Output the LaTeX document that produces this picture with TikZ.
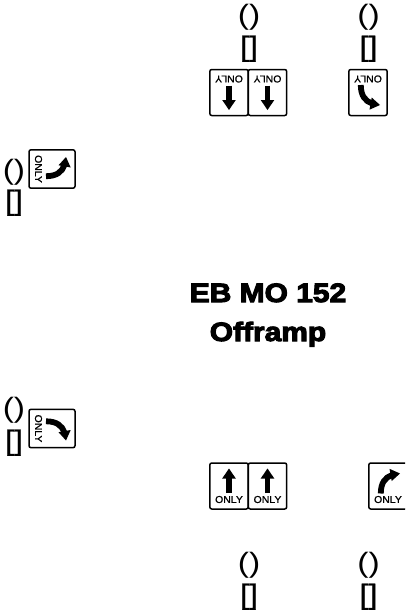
\documentclass[tikz,border=0pt]{standalone}
\usepackage{fontspec}
\setmainfont{Liberation Sans}
\newfontfamily\heavyfont[FakeBold=4,FakeStretch=1.13]{Liberation Sans Bold}
\newfontfamily\onlyfont[FakeBold=1,FakeStretch=1.05]{Liberation Sans}
\newfontfamily\bracketfont[FakeBold=0.8,FakeStretch=1.15]{Liberation Sans}
\newfontfamily\parenfont[FakeStretch=1.2]{Liberation Sans}
\tikzset{
  parens/.style={font=\parenfont\fontsize{28}{28}\selectfont, anchor=base, inner sep=0pt},
  brackets/.style={font=\bracketfont\fontsize{28}{28}\selectfont, anchor=base, inner sep=0pt},
  titletext/.style={font=\heavyfont\fontsize{26.5}{26.5}\selectfont, anchor=base, inner sep=0pt},
  panel/.style={draw=black, fill=white, line width=1.5pt, rounded corners=2pt},
  onlytext/.style={font=\onlyfont\fontsize{10}{10}\selectfont, inner sep=0pt, transform shape},
  arrowshaft/.style={draw=black, line width=5.8pt},
  arrowhead/.style={fill=black},
  turned/.style={transform shape},
  pics/signboard/.style={code={
    \draw[panel] (-19.2,-23) rectangle (19.2,23);
    \node[onlytext] (-only) at (0,13.5) {ONLY};
  }},
  pics/straightarrow/.style={code={
    \draw[arrowshaft] (0,7) -- (0,-8);
    \fill[arrowhead] (0,-17.5) -- (6.8,-7.5) -- (-6.8,-7.5) -- cycle;
  }},
  pics/leftturnarrow/.style={code={
    \draw[arrowshaft] (7.2,7.5) .. controls (7.2,-3) and (3,-8.5) .. (-4,-11);
    \fill[arrowhead] (-12,-12.5) -- (-3.7,-5) -- (-1.5,-17.2) -- cycle;
  }},
  pics/rightturnarrow/.style={code={
    \begin{scope}[xscale=-1]
    \draw[arrowshaft] (7.2,7.5) .. controls (7.2,-3) and (3,-8.5) .. (-4,-11);
    \fill[arrowhead] (-12,-12.5) -- (-3.7,-5) -- (-1.5,-17.2) -- cycle;
    \end{scope}
  }}
}
\begin{document}
\begin{tikzpicture}[x=1pt,y=-1pt]
\useasboundingbox (0,0) rectangle (405,613);
\clip (0,0) rectangle (405,613);
% top labels
\node[parens] (pt1) at (249,24) {()};
\node[brackets] (bt1) at (249,56) {[]};
\node[parens] (pt2) at (368.5,24) {()};
\node[brackets] (bt2) at (368.5,56) {[]};
% top signs
\begin{scope}[shift={(229,92.5)},rotate=180]
  \pic[turned] (s1) {signboard}; \pic[turned] (a1) {straightarrow};
\end{scope}
\begin{scope}[shift={(267.5,92.5)},rotate=180]
  \pic[turned] (s2) {signboard}; \pic[turned] (a2) {straightarrow};
\end{scope}
\begin{scope}[shift={(368,92.5)},rotate=180]
  \pic[turned] (s3) {signboard}; \pic[turned] (a3) {leftturnarrow};
\end{scope}
% left labels and signs
\node[parens] (pl1) at (14,179) {()};
\node[brackets] (bl1) at (14,210) {[]};
\begin{scope}[shift={(52,169)},rotate=-90]
  \pic[turned] (s4) {signboard}; \pic[turned] at (0,-1.5) (a4) {leftturnarrow};
\end{scope}
\node[parens] (pl2) at (14,417) {()};
\node[brackets] (bl2) at (14,450) {[]};
\begin{scope}[shift={(52,428.5)},rotate=-90]
  \pic[turned] (s5) {signboard}; \pic[turned] at (0,-1.5) (a5) {rightturnarrow};
\end{scope}
% title
\node[titletext] (t1) at (268,302) {EB MO 152};
\node[titletext] (t2) at (268,341) {Offramp};
% bottom signs
\begin{scope}[shift={(229,486)}]
  \pic[turned] (s6) {signboard}; \pic[turned] (a6) {straightarrow};
\end{scope}
\begin{scope}[shift={(267.5,486)}]
  \pic[turned] (s7) {signboard}; \pic[turned] (a7) {straightarrow};
\end{scope}
\begin{scope}[shift={(388,486)}]
  \pic[turned] (s8) {signboard}; \pic[turned] (a8) {rightturnarrow};
\end{scope}
% bottom labels
\node[parens] (pb1) at (249,572) {()};
\node[brackets] (bb1) at (249,604) {[]};
\node[parens] (pb2) at (368.5,572) {()};
\node[brackets] (bb2) at (368.5,604) {[]};
\end{tikzpicture}
\end{document}
